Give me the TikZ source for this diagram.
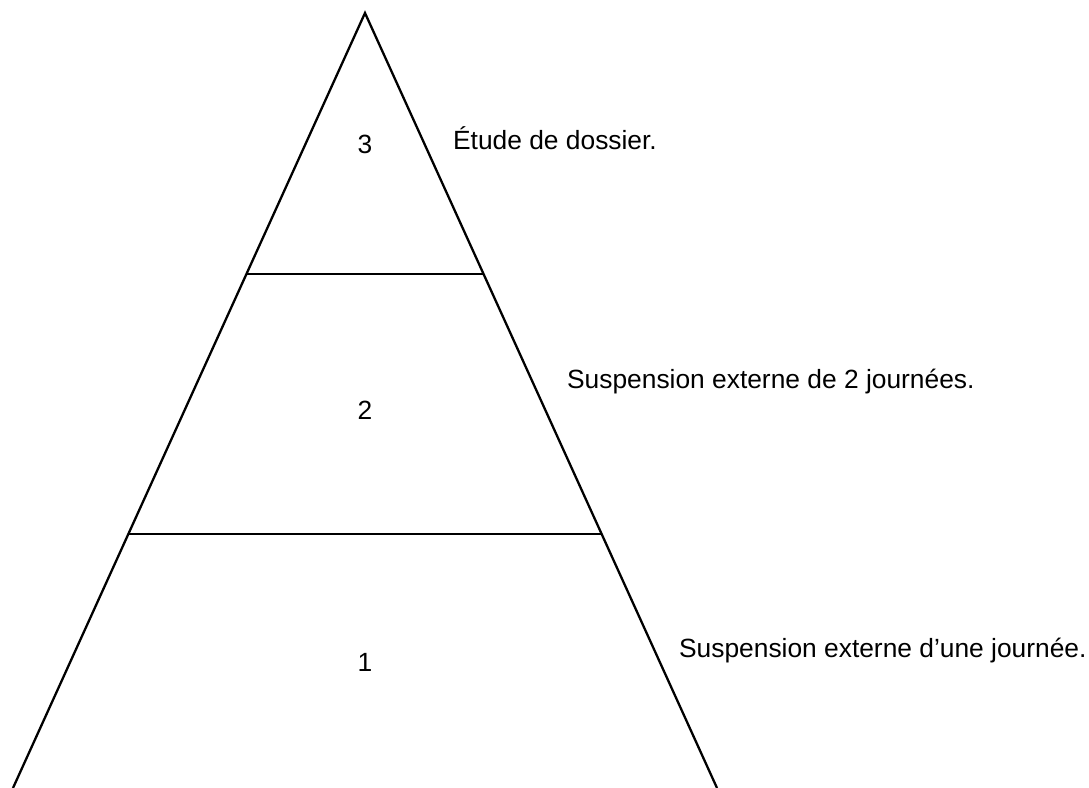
\documentclass[tikz,border=0pt]{standalone}
\usepackage{fontspec}
\setmainfont{Liberation Sans}
\usetikzlibrary{positioning,calc}

\begin{document}
\begin{tikzpicture}[x=0.2mm,y=-0.2mm,font=\fontsize{15}{18}\selectfont,line width=1.3pt]
\tikzset{lvl/.style={anchor=base,inner sep=0pt},
  note/.style={anchor=base west,inner sep=0pt}}
\useasboundingbox (0,0) rectangle (1089,788);
% pyramid outline
\coordinate (top) at (365,13);
\coordinate (bl) at (13,788);
\coordinate (br) at (717,788);
\draw (bl) -- (top) -- (br);
% level boundaries
\draw ($(top)!261/775!(bl)$) -- ($(top)!261/775!(br)$);
\draw ($(top)!521/775!(bl)$) -- ($(top)!521/775!(br)$);
% level numbers
\node[lvl] (n3) at (365,154) {3};
\node[lvl] (n2) at (365,420) {2};
\node[lvl] (n1) at (365,672) {1};
% descriptions
\node[note] (d3) at (452,150) {Étude de dossier.};
\node[note] (d2) at (566,389) {Suspension externe de 2 journées.};
\node[note] (d1) at (678,658) {Suspension externe d’une journée.};
\end{tikzpicture}
\end{document}
